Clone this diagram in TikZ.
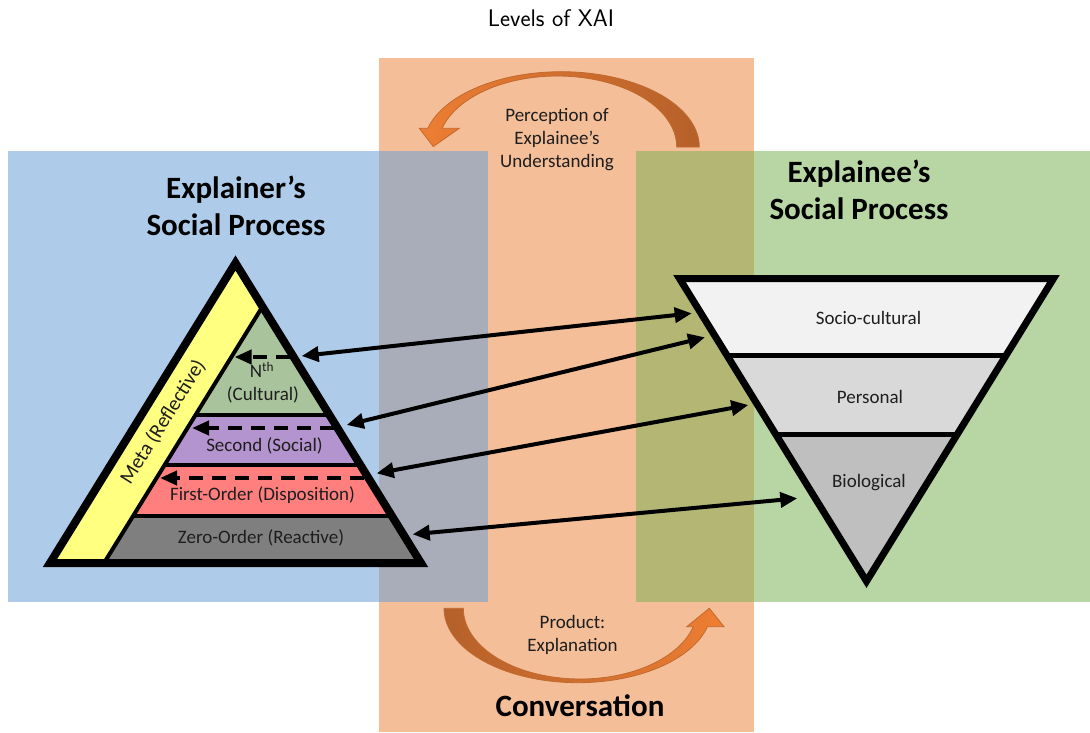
\documentclass[tikz,border=0pt]{standalone}
\usepackage{fontspec}
\setmainfont{Carlito}
\usetikzlibrary{arrows.meta}
\definecolor{orangebg}{HTML}{F4BE98}
\definecolor{bluebg}{HTML}{AECCE9}
\definecolor{greenbg}{HTML}{B8D6A4}
\definecolor{graybg}{HTML}{A8ADB9}
\definecolor{olivebg}{HTML}{B3B773}
\definecolor{yellowband}{HTML}{FFFF80}
\definecolor{cultural}{HTML}{A9C49D}
\definecolor{social}{HTML}{B494CF}
\definecolor{dispo}{HTML}{FF7F7F}
\definecolor{reactive}{HTML}{7F7F7F}
\definecolor{socio}{HTML}{F2F2F2}
\definecolor{personal}{HTML}{D9D9D9}
\definecolor{bio}{HTML}{BFBFBF}
\definecolor{arrbright}{HTML}{EE7E32}
\definecolor{arrdark}{HTML}{B5602A}
\definecolor{arredge}{HTML}{C06A30}
\definecolor{txt}{HTML}{1E1E1E}
\tikzset{
  smalltext/.style={font=\fontsize{19}{23}\selectfont, text=txt, align=center, inner sep=0pt},
  bigtext/.style={font=\bfseries\fontsize{31}{37}\selectfont, align=center, inner sep=0pt},
  link/.style={line width=4pt, {Triangle[length=17pt,width=15pt]}-{Triangle[length=17pt,width=15pt]}},
  dlink/.style={line width=4pt, dash pattern=on 14pt off 9pt, -{Triangle[length=17pt,width=14pt]}},
  sep/.style={line width=4pt},
  blockarrow/.style={draw=arredge, line width=0.8pt},
}
\begin{document}
\begin{tikzpicture}[x=1pt,y=-1pt]
\useasboundingbox (0,0) rectangle (1090,732);
% backgrounds
\fill[orangebg] (379,58) rectangle (754,732);
\fill[bluebg] (8,151) rectangle (488,602);
\fill[greenbg] (636,151) rectangle (1090,602);
\fill[graybg] (379,151) rectangle (488,602);
\fill[olivebg] (636,151) rectangle (754,602);

% title
\node[font=\sffamily\fontsize{24}{29}\selectfont, inner sep=0pt] (title) at (551,18) {Levels of XAI};

% curved block arrows
\path[blockarrow, left color=arrbright, right color=arrdark]
  plot[domain=0:165.6, samples=70, variable=\t] ({561.4+137.9*cos(\t)},{147-75.3*sin(\t)})
  -- (419.3,128.3) -- (433.3,146.5) -- (459.3,128.3)
  -- plot[domain=164.7:0, samples=70, variable=\t] ({557.3+119.4*cos(\t)},{147-71*sin(\t)})
  -- cycle;
\path[blockarrow, left color=arrdark, right color=arrbright]
  plot[domain=-180:-14.3, samples=70, variable=\t] ({577.8+133.8*cos(\t)},{608.3-74.4*sin(\t)})
  -- (724,626.7) -- (709.3,608.3) -- (686.7,626.7)
  -- plot[domain=-15.1:-180, samples=70, variable=\t] ({580.3+117*cos(\t)},{608.3-70.7*sin(\t)})
  -- cycle;

\node[smalltext] (perc) at (557,140) {Perception of\\Explainee’s\\Understanding};
\node[smalltext] (prod) at (572.5,635) {Product:\\Explanation};
\node[bigtext] (conv) at (580,706) {Conversation};
\node[bigtext] (explr) at (236,206) {Explainer’s\\Social Process};
\node[bigtext] (exple) at (859,190) {Explainee’s\\Social Process};

% left pyramid
\coordinate (PA) at (235.5,263);
\coordinate (PL) at (50,563);
\coordinate (PR) at (421,563);
\begin{scope}
  \clip (PA) -- (PL) -- (PR) -- cycle;
  \fill[yellowband] (PA) -- (PL) -- (PR) -- cycle;
  \fill[cultural] (297.5,250) -- (450,250) -- (450,415) -- (195.5,415) -- cycle;
  \fill[social] (195.5,415) -- (450,415) -- (450,465) -- (164.6,465) -- cycle;
  \fill[dispo] (164.6,465) -- (450,465) -- (450,516) -- (133.1,516) -- cycle;
  \fill[reactive] (133.1,516) -- (450,516) -- (450,570) -- (99.7,570) -- cycle;
  \draw[sep] (297.5,250) -- (99.7,570);
  \draw[sep] (195.5,415) -- (450,415);
  \draw[sep] (164.6,465) -- (450,465);
  \draw[sep] (133.1,516) -- (450,516);
\end{scope}
\draw[line width=8pt, line join=miter] (PA) -- (PL) -- (PR) -- cycle;

\node[smalltext] (nth) at (262,370) {N\textsuperscript{th}};
\node[smalltext] (cult) at (263,395) {(Cultural)};
\node[smalltext] (second) at (264.5,446) {Second (Social)};
\node[smalltext] (first) at (262.5,495) {First-Order (Disposition)};
\node[smalltext] (zero) at (261,538) {Zero-Order (Reactive)};
\node[smalltext, font=\fontsize{20.5}{24}\selectfont, rotate=58] (meta) at (163,422) {Meta (Reflective)};

% dashed arrows inside pyramid
\coordinate (d1s) at (290,357);
\coordinate (d1e) at (234.5,357);
\coordinate (d2s) at (334,428);
\coordinate (d2e) at (192,428);
\coordinate (d3s) at (364,478);
\coordinate (d3e) at (160,478);
\draw[dlink] (d1s) -- (d1e);
\draw[dlink] (d2s) -- (d2e);
\draw[dlink] (d3s) -- (d3e);

% right inverted triangle
\coordinate (TL) at (679.5,278.5);
\coordinate (TR) at (1053.5,278.5);
\coordinate (TB) at (866.5,581.3);
\begin{scope}
  \clip (TL) -- (TR) -- (TB) -- cycle;
  \fill[socio] (TL) -- (TR) -- (TB) -- cycle;
  \fill[personal] (650,355) rectangle (1080,434);
  \fill[bio] (650,434) rectangle (1080,600);
  \draw[line width=5pt] (650,355) -- (1080,355);
  \draw[line width=5pt] (650,434) -- (1080,434);
\end{scope}
\draw[line width=7pt, line join=miter] (TL) -- (TR) -- (TB) -- cycle;

\node[smalltext] (sc) at (868.5,318) {Socio-cultural};
\node[smalltext] (pers) at (870,397) {Personal};
\node[smalltext] (biol) at (869,483) {Biological};

% connecting double arrows
\coordinate (a1l) at (301.7,356);
\coordinate (a1r) at (691.7,313.3);
\coordinate (a2l) at (346.7,425);
\coordinate (a2r) at (705,337.3);
\coordinate (a3l) at (376.7,473.3);
\coordinate (a3r) at (748.3,405);
\coordinate (a4l) at (412.7,534.3);
\coordinate (a4r) at (797.3,498.3);
\draw[link] (a1l) -- (a1r);
\draw[link] (a2l) -- (a2r);
\draw[link] (a3l) -- (a3r);
\draw[link] (a4l) -- (a4r);
\end{tikzpicture}
\end{document}
